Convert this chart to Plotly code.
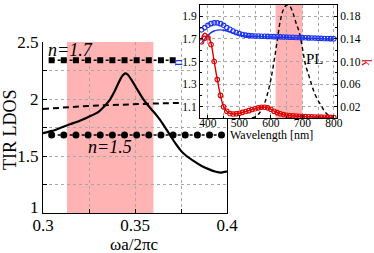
import plotly.graph_objects as go

# ---------------- main panel data ----------------
tir_x = [0.300, 0.305, 0.310, 0.315, 0.320, 0.325, 0.330, 0.333, 0.336, 0.339, 0.341, 0.343,
         0.3446, 0.346, 0.348, 0.351, 0.354, 0.357, 0.360, 0.363, 0.366, 0.369, 0.372, 0.375,
         0.378, 0.382, 0.386, 0.390, 0.394, 0.397, 0.400]
tir_ldos = [1.70, 1.72, 1.75, 1.78, 1.81, 1.845, 1.885, 1.93, 1.985, 2.07, 2.14, 2.20,
            2.225, 2.215, 2.17, 2.09, 2.01, 1.945, 1.89, 1.83, 1.76, 1.685, 1.61, 1.545,
            1.50, 1.455, 1.415, 1.385, 1.362, 1.355, 1.365]

dash_x = [0.300, 0.310, 0.320, 0.330, 0.340, 0.350, 0.360, 0.370, 0.376]
dash_y = [1.912, 1.925, 1.935, 1.943, 1.950, 1.955, 1.960, 1.964, 1.966]

n17_x = [0.3047, 0.3113, 0.3179, 0.3245, 0.3311, 0.3377, 0.3443, 0.3509, 0.3575, 0.3641, 0.3705]
n17_y = [2.34] * len(n17_x)

n15_x = [0.3047, 0.3113, 0.3179, 0.3245, 0.3311, 0.3377, 0.3443, 0.3509, 0.3575, 0.3641,
         0.3707, 0.3773, 0.3839, 0.3905, 0.3970]
n15_y = [1.684] * len(n15_x)

main_band = [0.313, 0.360]
main_xticks = [0.3, 0.325, 0.35, 0.375, 0.4]
main_xticktext = ["0.3", "", "0.35", "", "0.4"]
main_yticks = [1, 1.25, 1.5, 1.75, 2, 2.25, 2.5]
main_yticktext = ["", "", "1.5", "", "2", "", "2.5"]   # bottom label "1" drawn separately
bottom_ylabel = "1"
bottom_ylabel_pos = 1.05

# ---------------- inset data ----------------
wl = list(range(380, 810, 10))
n_meas = [1.78, 1.80, 1.82, 1.835, 1.842, 1.842, 1.835, 1.82, 1.80, 1.785, 1.77, 1.757, 1.747,
          1.739, 1.733, 1.729, 1.727, 1.726, 1.725, 1.724, 1.723, 1.722, 1.721, 1.72, 1.719,
          1.718, 1.717, 1.716, 1.715, 1.714, 1.713, 1.712, 1.711, 1.71, 1.709, 1.708, 1.707,
          1.706, 1.705, 1.704, 1.703, 1.702, 1.701]
n_model = [1.665, 1.70, 1.73, 1.755, 1.77, 1.778, 1.78, 1.777, 1.77, 1.76, 1.75, 1.741, 1.734,
           1.729, 1.726, 1.724, 1.723, 1.722, 1.721, 1.720, 1.719, 1.718, 1.717, 1.716, 1.715,
           1.714, 1.713, 1.712, 1.711, 1.710, 1.709, 1.708, 1.707, 1.706, 1.705, 1.704, 1.703,
           1.702, 1.701, 1.700, 1.699, 1.698, 1.697]
k_meas = [0.135, 0.141, 0.142, 0.130, 0.100, 0.068, 0.040, 0.020, 0.012, 0.008, 0.007, 0.0075,
          0.0085, 0.010, 0.0115, 0.013, 0.015, 0.0165, 0.018, 0.019, 0.019, 0.018, 0.0155, 0.012,
          0.0095, 0.0075, 0.006, 0.005, 0.0045, 0.004, 0.0035, 0.003, 0.0027, 0.0025, 0.0023,
          0.0021, 0.0019, 0.0017, 0.0015, 0.0013, 0.0012, 0.0011, 0.001]
k_model = [0.142, 0.150, 0.146, 0.132, 0.100, 0.068, 0.040, 0.020, 0.012, 0.008, 0.007, 0.0075,
           0.0085, 0.010, 0.0115, 0.013, 0.015, 0.0165, 0.018, 0.019, 0.019, 0.018, 0.0155, 0.012,
           0.0095, 0.0075, 0.006, 0.005, 0.0045, 0.004, 0.0035, 0.003, 0.0027, 0.0025, 0.0023,
           0.0021, 0.0019, 0.0017, 0.0015, 0.0013, 0.0012, 0.0011, 0.001]
pl_wl = [540, 550, 560, 570, 580, 590, 600, 610, 620, 630, 640, 650, 660, 670, 680, 690, 700,
         710, 720, 730, 740, 750, 760, 770, 780, 790, 800]
pl_val = [1.0, 1.01, 1.03, 1.07, 1.13, 1.22, 1.34, 1.50, 1.68, 1.86, 1.96, 2.0, 1.99, 1.93,
          1.84, 1.76, 1.62, 1.47, 1.38, 1.29, 1.21, 1.155, 1.11, 1.06, 1.03, 1.01, 1.0]
inset_band = [615, 700]
inset_xticks = [400, 500, 600, 700, 800]
inset_nticks = [1.1, 1.3, 1.5, 1.7, 1.9]
inset_kticks = [0.02, 0.06, 0.10, 0.14, 0.18]
inset_kticktext = ["0.02", "0.06", "0.10", "0.14", "0.18"]

FONT = "Liberation Serif"
W, H = 374, 253
BLUE = "#1a33f0"
RED = "#e00000"
PINK = "#ffb3b3"
GRID = "#a8a8a8"

fig = go.Figure()

# main traces
fig.add_trace(go.Scatter(x=n17_x, y=n17_y, mode="lines+markers", xaxis="x", yaxis="y",
                         line=dict(color="black", width=1.5, dash="dot"),
                         marker=dict(symbol="square", size=6, color="black"), cliponaxis=False))
fig.add_trace(go.Scatter(x=n15_x, y=n15_y, mode="lines+markers", xaxis="x", yaxis="y",
                         line=dict(color="black", width=1.5, dash="dot"),
                         marker=dict(symbol="circle", size=7, color="black"), cliponaxis=False))
fig.add_trace(go.Scatter(x=dash_x, y=dash_y, mode="lines", xaxis="x", yaxis="y",
                         line=dict(color="black", width=2, dash="6px,4px")))
fig.add_trace(go.Scatter(x=tir_x, y=tir_ldos, mode="lines", xaxis="x", yaxis="y",
                         line=dict(color="black", width=2.2, shape="spline", smoothing=0.6)))

# inset traces
fig.add_trace(go.Scatter(x=pl_wl, y=pl_val, mode="lines", xaxis="x2", yaxis="y2",
                         line=dict(color="black", width=1.4, dash="4px,3px", shape="spline")))
fig.add_trace(go.Scatter(x=wl, y=n_model, mode="lines", xaxis="x2", yaxis="y2",
                         line=dict(color=BLUE, width=1.4, shape="spline")))
fig.add_trace(go.Scatter(x=wl, y=n_meas, mode="markers", xaxis="x2", yaxis="y2",
                         marker=dict(symbol="circle-open", size=4.5, color=BLUE,
                                     line=dict(width=1.1, color=BLUE))))
fig.add_trace(go.Scatter(x=wl, y=k_model, mode="lines", xaxis="x2", yaxis="y3",
                         line=dict(color=RED, width=1.4, shape="spline")))
fig.add_trace(go.Scatter(x=wl, y=k_meas, mode="markers", xaxis="x2", yaxis="y3",
                         marker=dict(symbol="circle-open", size=4.5, color=RED,
                                     line=dict(width=1.1, color=RED))))

fig.add_shape(type="rect", xref="x", yref="y", x0=main_band[0], x1=main_band[1], y0=1, y1=2.5,
              fillcolor=PINK, line=dict(width=0), layer="below")
fig.add_shape(type="rect", xref="x2", yref="y2", x0=inset_band[0], x1=inset_band[1], y0=1.0, y1=2.0,
              fillcolor=PINK, line=dict(width=0), layer="below")

def px(x):
    return x / W

def py(y):
    return (H - y) / H

tickfont_main = dict(family=FONT, size=17, color="black")
tickfont_in = dict(family=FONT, size=11.5, color="black")

fig.update_layout(
    width=W, height=H, margin=dict(l=0, r=0, t=0, b=0, autoexpand=False),
    paper_bgcolor="white", plot_bgcolor="white", showlegend=False,
    xaxis=dict(domain=[px(43), px(227)], range=[0.3, 0.4], tickvals=main_xticks,
               ticktext=main_xticktext, ticks="inside", ticklen=4, tickcolor="black",
               showline=True, linecolor="black", linewidth=1, mirror=False,
               showgrid=True, gridcolor=GRID, griddash="dot", gridwidth=1,
               zeroline=False, tickfont=tickfont_main, anchor="y", automargin=False,
               ticklabelstandoff=-3),
    yaxis=dict(domain=[py(213), py(42)], range=[1, 2.5], tickvals=main_yticks,
               ticktext=main_yticktext, ticks="inside", ticklen=4, tickcolor="black",
               showline=True, linecolor="black", linewidth=1, mirror=True,
               showgrid=True, gridcolor=GRID, griddash="dot", gridwidth=1,
               zeroline=False, tickfont=tickfont_main, anchor="x", automargin=False),
    xaxis2=dict(domain=[px(200), px(337)], range=[375, 810], tickvals=inset_xticks,
                ticks="inside", ticklen=3, tickcolor="black",
                minor=dict(tickvals=[450, 550, 650, 750], ticks="inside", ticklen=2,
                           showgrid=True, gridcolor=GRID, griddash="dot"),
                showline=True, linecolor="black", linewidth=1, mirror=True,
                showgrid=True, gridcolor=GRID, griddash="dot", gridwidth=1,
                zeroline=False, tickfont=tickfont_in, anchor="y2", automargin=False,
                ticklabelstandoff=-6),
    yaxis2=dict(domain=[py(118), py(5)], range=[1.0, 2.0], tickvals=inset_nticks,
                ticks="inside", ticklen=3, tickcolor="black",
                minor=dict(tickvals=[1.2, 1.4, 1.6, 1.8], ticks="inside", ticklen=2),
                showline=True, linecolor="black", linewidth=1, mirror=False,
                showgrid=True, gridcolor=GRID, griddash="dot", gridwidth=1,
                zeroline=False, tickfont=tickfont_in, anchor="x2", automargin=False),
    yaxis3=dict(range=[0, 0.2], overlaying="y2", side="right", anchor="x2",
                tickvals=inset_kticks, ticktext=inset_kticktext,
                ticks="inside", ticklen=3, tickcolor="black",
                minor=dict(tickvals=[0.04, 0.08, 0.12, 0.16], ticks="inside", ticklen=2),
                showline=True, linecolor="black", linewidth=1,
                showgrid=False, zeroline=False, tickfont=tickfont_in, automargin=False),
)

ann = [
    dict(text="TIR LDOS", x=px(10), y=py(130), textangle=-90, size=18, color="black"),
    dict(text="\u03c9a/2\u03c0c", x=px(134), y=py(244), textangle=0, size=17, color="black"),
    dict(text="n", x=px(177), y=py(63), textangle=-90, size=14, color=BLUE),
    dict(text="k", x=px(367), y=py(62), textangle=90, size=14, color=RED),
    dict(text="Wavelength [nm]", x=px(271), y=py(135), textangle=0, size=12, color="black"),
]
for a in ann:
    fig.add_annotation(text=a["text"], x=a["x"], y=a["y"], xref="paper", yref="paper",
                       showarrow=False, textangle=a["textangle"], xanchor="center", yanchor="middle",
                       font=dict(family=FONT, size=a["size"], color=a["color"]))

# bottom y tick label, lifted slightly as in the reference
fig.add_annotation(text=bottom_ylabel, x=0.3, y=bottom_ylabel_pos, xref="x", yref="y",
                   showarrow=False, xanchor="right", yanchor="middle", xshift=-2,
                   font=dict(family=FONT, size=17, color="black"))

fig.add_annotation(text="<i>n=1.7</i>", x=0.3015, y=2.43, xref="x", yref="y", showarrow=False,
                   xanchor="left", yanchor="middle", font=dict(family=FONT, size=18, color="black"))
fig.add_annotation(text="<i>n=1.5</i>", x=0.3364, y=1.58, xref="x", yref="y", showarrow=False,
                   xanchor="center", yanchor="middle", font=dict(family=FONT, size=18, color="black"))
fig.add_annotation(text="PL", x=740, y=1.52, xref="x2", yref="y2", showarrow=False,
                   xanchor="center", yanchor="middle", font=dict(family=FONT, size=15, color="black"))

fig.write_html("out.html", config={"displayModeBar": False},
               post_script="document.body.style.margin='0px';")
